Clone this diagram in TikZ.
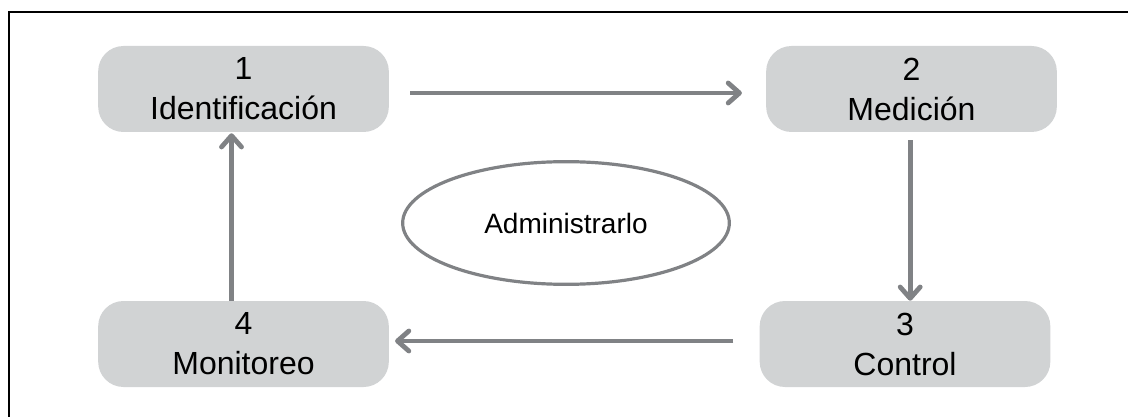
\documentclass[tikz,border=0pt]{standalone}
\usepackage{fontspec}
\setmainfont{Liberation Sans}
\usetikzlibrary{arrows.meta,shapes.geometric}
\definecolor{boxgray}{HTML}{D1D3D4}
\definecolor{arrowgray}{HTML}{808285}
\begin{document}
\begin{tikzpicture}[
    x=0.75pt, y=-0.75pt,
    phase/.style={
      rectangle,
      rounded corners=19pt,
      fill=boxgray,
      minimum width=218pt,
      minimum height=64.5pt,
      inner sep=0pt,
      align=center,
      font=\fontsize{24}{30}\selectfont
    },
    core/.style={
      ellipse,
      draw=arrowgray,
      line width=2.4pt,
      minimum width=245pt,
      minimum height=92pt,
      inner sep=0pt,
      font=\fontsize{21}{25}\selectfont
    },
    flow/.style={
      draw=arrowgray,
      line width=3.6pt,
      -{Straight Barb[length=8.5pt,width=15pt,round]}
    },
    frame/.style={
      draw=black,
      line width=2pt
    }
  ]

    \useasboundingbox (0,0) rectangle (1128,417);

    % Outer frame (left and top edges only)
    \draw[frame] (9,417) -- (9,12) -- (1128,12);

    % Phases of the cycle
    \node[phase] (ident) at (243.5,89) {1\\Identificación};
    \node[phase] (medic) at (911.5,89) {2\\Medición};
    \node[phase] (contr) at (905,344) {3\\Control};
    \node[phase] (monit) at (243.5,344) {4\\Monitoreo};

    % Centre
    \node[core] (admin) at (566,223) {Administrarlo};

    % Cycle arrows
    \draw[flow, shorten <=15.75pt, shorten >=18pt]
      ([yshift=-3pt]ident.east) -- ([yshift=-3pt]medic.west);
    \draw[flow, shorten <=6pt]
      ([xshift=-1pt]medic.south) -- ([xshift=-1pt]medic.south |- contr.north);
    \draw[flow, shorten <=19.5pt, shorten >=4.5pt]
      ([yshift=2.25pt]contr.west) -- ([yshift=2.25pt]monit.east);
    \draw[flow, shorten >=0.75pt]
      ([xshift=-9pt]monit.north) -- ([xshift=-9pt]ident.south);

  \end{tikzpicture}
\end{document}
